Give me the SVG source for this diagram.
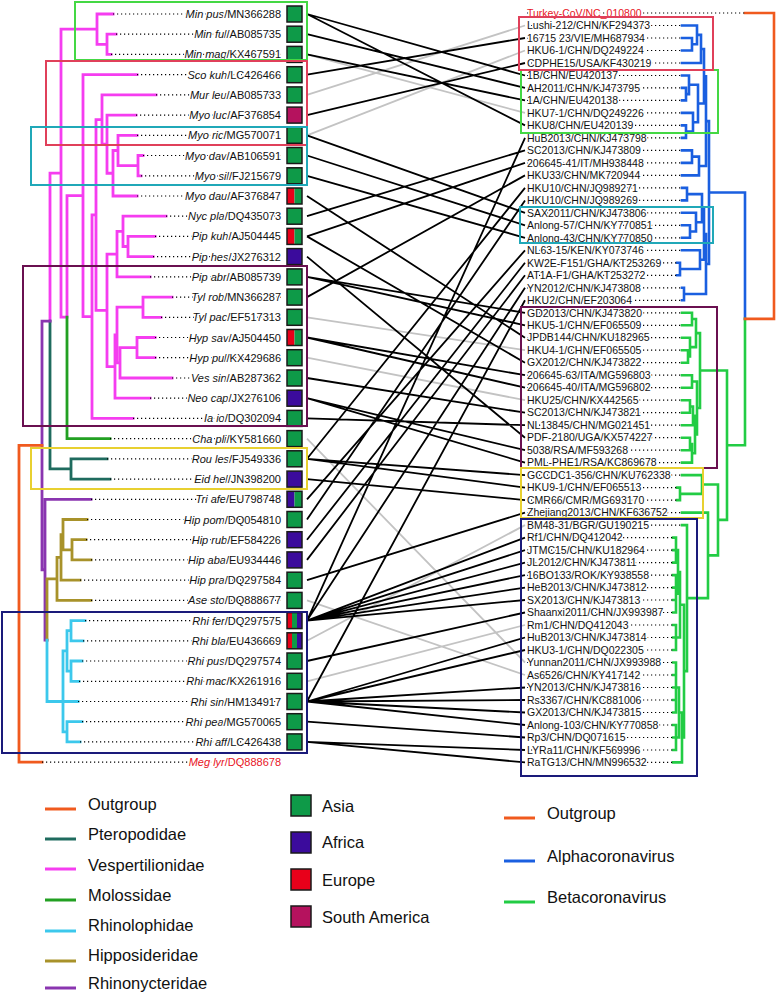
<svg xmlns="http://www.w3.org/2000/svg" width="781" height="993" viewBox="0 0 781 993">
<style>
.lt{font:11px "Liberation Sans",Arial,sans-serif;text-anchor:end;stroke:#fff;stroke-width:3;paint-order:stroke;stroke-linejoin:round;fill:#111}
.rt{font:10.5px "Liberation Sans",Arial,sans-serif;stroke:#fff;stroke-width:3;paint-order:stroke;stroke-linejoin:round;fill:#111}
.i{font-style:italic}
.red{fill:#e8141e}
.d{stroke:#000;stroke-width:1.2;stroke-dasharray:1.2 2.8;fill:none}
.br{fill:none;stroke-width:2.8;stroke-linecap:square}
.rb{fill:none;stroke-width:2.6;stroke-linecap:square}
.c{stroke:#000;stroke-width:1.8;fill:none}
.g{stroke:#c3c3c3;stroke-width:1.8;fill:none}
.bx{fill:none;stroke-width:2}
.sq{stroke:#1a1a1a;stroke-width:1.5;fill:none}
.A{fill:#0e9a48}.F{fill:#3b0b9c}.E{fill:#e8001a}.S{fill:#b5125e}
.lg{font:16.5px "Liberation Sans",Arial,sans-serif;fill:#111}
.ll{stroke-width:3}
</style>

<!-- host tree -->
<g id="host-tree">
<path class="br" stroke="#f53df0" d="M107,34.2V54.4M107,34.2H116M107,54.4H111M97,14V44.3M97,14H113M97,44.3H107M61,29.15V317.15M61,29.15H97M61,317.15H67M67,195.7V317.15M67,195.7H83M83,74.7V316.7M83,74.7H137M83,316.7H92M92,214.95V418.4M92,214.95H96M92,418.4H133M96,119.55V310.35M96,119.55H102M96,310.35H107M102,94.9V144.2M102,94.9H156M102,144.2H107M107,115.1V173.25M107,115.1H136M107,173.25H113M113,150.5V196M113,150.5H118M113,196H137M118,135.3V165.65M118,135.3H137M118,165.65H138M138,155.5V175.8M138,155.5H143M138,175.8H141M107,254.1V366.6M107,254.1H117M107,366.6H115M117,231.35V276.9M117,231.35H123M117,276.9H150M123,216.2V246.5M123,216.2H166M123,246.5H128M128,236.4V256.6M128,236.4H155M128,256.6H153M115,335V398.2M115,335H117M115,398.2H150M117,307.2V362.8M117,307.2H143M117,362.8H120M143,297.1V317.3M143,297.1H172M143,317.3H161M120,347.6V378M120,347.6H137M120,378H172M137,337.5V357.7M137,337.5H155M137,357.7H155M50,173.15V321.05M50,173.15H61"/>
<path class="br" stroke="#22a022" d="M67,317.15V438.6M67,438.6H110"/>
<path class="br" stroke="#1f6b5e" d="M50,321.05V468.95M50,468.95H71M71,458.8V479.1M71,458.8H107M71,479.1H110"/>
<path class="br" stroke="#8a35b0" d="M42,321.05H50M42,321.05V569.75M42,569.75H45M45,499.3V640.2M45,499.3H91M45,640.2H47"/>
<path class="br" stroke="#a8922a" d="M47,578.9V640.2M47,578.9H57M57,557.4V600.4M57,557.4H61M57,600.4H91M61,534.65V580.2M61,534.65H63M61,580.2H80M63,519.5V549.8M63,519.5H87M63,549.8H72M72,539.7V559.9M72,539.7H86M72,559.9H91"/>
<path class="br" stroke="#3cc8ec" d="M47,640.2V701.5M47,701.5H78M63,650.9V731.8M63,650.9H67M63,731.8H67M67,630.7V671.15M67,630.7H71M67,671.15H71M71,620.6V640.8M71,620.6H85M71,640.8H83M71,661V681.3M71,661H82M71,681.3H79M67,721.7V741.9M67,721.7H82M67,741.9H80"/>
<path class="br" stroke="#f05a1e" d="M19,445.4H42M19,445.4V762.1M19,762.1H42"/>
</g>

<!-- virus tree -->
<g id="virus-tree">
<path class="rb" stroke="#1a5fe0" d="M692,38V50.5M682,38H692M682,50.5H692M697,25.5V44.25M682,25.5H697M692,44.25H697M701,34.9V63M697,34.9H701M682,63H701M686,87.9V100.4M682,87.9H686M682,100.4H686M689,75.5V94.15M682,75.5H689M686,94.15H689M686,125.4V137.9M682,125.4H686M682,137.9H686M693,112.9V131.65M682,112.9H693M686,131.65H693M698,84.8V122.3M689,84.8H698M693,122.3H698M704,48.95V103.55M701,48.95H704M698,103.55H704M692,150.4V162.9M682,150.4H692M682,162.9H692M699,156.65V175.4M692,156.65H699M682,175.4H699M687,187.9V200.4M682,187.9H687M682,200.4H687M690,225.3V237.8M682,225.3H690M682,237.8H690M696,212.8V231.55M682,212.8H696M690,231.55H696M702,194.15V222.2M687,194.15H702M696,222.2H702M680,262.8V275.3M677,262.8H680M677,275.3H680M700,250.3V269.05M682,250.3H700M680,269.05H700M684,287.8V300.3M682,287.8H684M682,300.3H684M706,76.25V166M704,76.25H706M699,166H706M704,208.2V259.7M702,208.2H704M700,259.7H704M706,233.95V294.05M704,233.95H706M684,294.05H706M709,121.1V264M706,121.1H709M706,264H709M745,192.55H709M745,192.55V318.9"/>
<path class="rb" stroke="#22cc44" d="M745,318.9V445.2M727,445.2H745M692,312.8V325.3M682,312.8H692M682,325.3H692M688,350.2V362.7M682,350.2H688M682,362.7H688M690,337.7V356.45M682,337.7H690M688,356.45H690M696,319.05V347.1M692,319.05H696M690,347.1H696M692,375.2V387.7M682,375.2H692M682,387.7H692M690,400.2V412.7M682,400.2H690M682,412.7H690M693,406.45V425.2M690,406.45H693M682,425.2H693M690,437.7V450.2M682,437.7H690M682,450.2H690M692,443.95V462.6M690,443.95H692M682,462.6H692M695,415.8V453.3M693,415.8H695M692,453.3H695M697,381.45V434.55M692,381.45H697M695,434.55H697M700,333.1V408M696,333.1H700M697,408H700M680,487.6V500.1M677,487.6H680M677,500.1H680M702,475.1V493.85M682,475.1H702M680,493.85H702M676,537.6V562.6M673,537.6H676M673,550.1H676M673,562.6H676M676,575.1V612.5M673,575.1H676M673,587.6H676M673,600H676M673,612.5H676M678,550.1V593.8M676,550.1H678M676,593.8H678M676,625V650M673,625H676M673,637.5H676M673,650H676M680,571.95V637.5M678,571.95H680M676,637.5H680M676,662.5V712.5M673,662.5H676M673,675H676M673,687.5H676M673,700H676M673,712.5H676M676,725V750M673,725H676M673,737.5H676M673,750H676M679,687.5V737.5M676,687.5H679M676,737.5H679M682,712.5V762.4M679,712.5H682M673,762.4H682M684,604.7V737.45M680,604.7H684M682,737.45H684M687,525.1V671.1M682,525.1H687M684,671.1H687M708,512.6V598.1M682,512.6H708M687,598.1H708M718,484.5V555.35M702,484.5H718M708,555.35H718M727,370.55V519.9M700,370.55H727M718,519.9H727"/>
<path class="rb" stroke="#f05a1e" d="M745,13H774M774,13V318.9M745,318.9H774"/>
</g>

<!-- connectors -->
<g id="connectors">
<path class="g" d="M307,54.4L525,112.9M307,94.9L525,25.5M307,135.3L525,50.5M307,317.3L525,350.2M307,357.7L525,400.2M307,438.6L525,662.5M307,600.4L525,675M307,640.8L525,525.1M307,681.3L525,625"/>
<path class="c" d="M307,14L525,75.5M307,14L525,125.4M307,34.2L525,87.9M307,54.4L525,100.4M307,74.7L525,38M307,115.1L525,63M307,135.3L525,212.8M307,155.5L525,225.3M307,175.8L525,237.8M307,196L525,337.7M307,216.2L525,150.4M307,236.4L525,162.9M307,236.4L525,362.7M307,256.6L525,437.7M307,276.9L525,312.8M307,276.9L525,325.3M307,297.1L525,175.4M307,337.5L525,375.2M307,337.5L525,387.7M307,378L525,412.7M307,398.2L525,450.2M307,398.2L525,462.6M307,418.4L525,425.2M307,458.8L525,187.9M307,458.8L525,475.1M307,458.8L525,487.6M307,479.1L525,500.1M307,499.3L525,250.3M307,519.5L525,200.4M307,539.7L525,262.8M307,559.9L525,275.3M307,580.2L525,512.6M307,620.6L525,137.9M307,620.6L525,287.8M307,620.6L525,537.6M307,620.6L525,550.1M307,620.6L525,562.6M307,620.6L525,575.1M307,620.6L525,587.6M307,620.6L525,600M307,661L525,612.5M307,701.5L525,300.3M307,701.5L525,637.5M307,701.5L525,650M307,701.5L525,687.5M307,701.5L525,700M307,701.5L525,712.5M307,701.5L525,725M307,721.7L525,737.5M307,741.9L525,750M307,741.9L525,762.4"/>
</g>

<!-- host leaves -->
<g id="h0"><path class="d" d="M113,14H281"/><text class="lt" x="281" y="18"><tspan class="i">Min pus</tspan>/MN366288</text><rect class="A" x="287" y="6" width="15" height="16"/><rect class="sq" x="287" y="6" width="15" height="16"/></g>
<g id="h1"><path class="d" d="M116,34.2H281"/><text class="lt" x="281" y="38.2"><tspan class="i">Min ful</tspan>/AB085735</text><rect class="A" x="287" y="26.2" width="15" height="16"/><rect class="sq" x="287" y="26.2" width="15" height="16"/></g>
<g id="h2"><path class="d" d="M111,54.4H281"/><text class="lt" x="281" y="58.4"><tspan class="i">Min mag</tspan>/KX467591</text><rect class="A" x="287" y="46.4" width="15" height="16"/><rect class="sq" x="287" y="46.4" width="15" height="16"/></g>
<g id="h3"><path class="d" d="M137,74.7H281"/><text class="lt" x="281" y="78.7"><tspan class="i">Sco kuh</tspan>/LC426466</text><rect class="A" x="287" y="66.7" width="15" height="16"/><rect class="sq" x="287" y="66.7" width="15" height="16"/></g>
<g id="h4"><path class="d" d="M156,94.9H281"/><text class="lt" x="281" y="98.9"><tspan class="i">Mur leu</tspan>/AB085733</text><rect class="A" x="287" y="86.9" width="15" height="16"/><rect class="sq" x="287" y="86.9" width="15" height="16"/></g>
<g id="h5"><path class="d" d="M136,115.1H281"/><text class="lt" x="281" y="119.1"><tspan class="i">Myo luc</tspan>/AF376854</text><rect class="S" x="287" y="107.1" width="15" height="16"/><rect class="sq" x="287" y="107.1" width="15" height="16"/></g>
<g id="h6"><path class="d" d="M137,135.3H281"/><text class="lt" x="281" y="139.3"><tspan class="i">Myo ric</tspan>/MG570071</text><rect class="A" x="287" y="127.3" width="15" height="16"/><rect class="sq" x="287" y="127.3" width="15" height="16"/></g>
<g id="h7"><path class="d" d="M143,155.5H281"/><text class="lt" x="281" y="159.5"><tspan class="i">Myo dav</tspan>/AB106591</text><rect class="A" x="287" y="147.5" width="15" height="16"/><rect class="sq" x="287" y="147.5" width="15" height="16"/></g>
<g id="h8"><path class="d" d="M141,175.8H281"/><text class="lt" x="281" y="179.8"><tspan class="i">Myo sil</tspan>/FJ215679</text><rect class="A" x="287" y="167.8" width="15" height="16"/><rect class="sq" x="287" y="167.8" width="15" height="16"/></g>
<g id="h9"><path class="d" d="M137,196H281"/><text class="lt" x="281" y="200"><tspan class="i">Myo dau</tspan>/AF376847</text><rect class="E" x="287" y="188" width="7.5" height="16"/><rect class="A" x="294.5" y="188" width="7.5" height="16"/><rect class="sq" x="287" y="188" width="15" height="16"/></g>
<g id="h10"><path class="d" d="M166,216.2H281"/><text class="lt" x="281" y="220.2"><tspan class="i">Nyc pla</tspan>/DQ435073</text><rect class="A" x="287" y="208.2" width="15" height="16"/><rect class="sq" x="287" y="208.2" width="15" height="16"/></g>
<g id="h11"><path class="d" d="M155,236.4H281"/><text class="lt" x="281" y="240.4"><tspan class="i">Pip kuh</tspan>/AJ504445</text><rect class="E" x="287" y="228.4" width="7.5" height="16"/><rect class="A" x="294.5" y="228.4" width="7.5" height="16"/><rect class="sq" x="287" y="228.4" width="15" height="16"/></g>
<g id="h12"><path class="d" d="M153,256.6H281"/><text class="lt" x="281" y="260.6"><tspan class="i">Pip hes</tspan>/JX276312</text><rect class="F" x="287" y="248.6" width="15" height="16"/><rect class="sq" x="287" y="248.6" width="15" height="16"/></g>
<g id="h13"><path class="d" d="M150,276.9H281"/><text class="lt" x="281" y="280.9"><tspan class="i">Pip abr</tspan>/AB085739</text><rect class="A" x="287" y="268.9" width="15" height="16"/><rect class="sq" x="287" y="268.9" width="15" height="16"/></g>
<g id="h14"><path class="d" d="M172,297.1H281"/><text class="lt" x="281" y="301.1"><tspan class="i">Tyl rob</tspan>/MN366287</text><rect class="A" x="287" y="289.1" width="15" height="16"/><rect class="sq" x="287" y="289.1" width="15" height="16"/></g>
<g id="h15"><path class="d" d="M161,317.3H281"/><text class="lt" x="281" y="321.3"><tspan class="i">Tyl pac</tspan>/EF517313</text><rect class="A" x="287" y="309.3" width="15" height="16"/><rect class="sq" x="287" y="309.3" width="15" height="16"/></g>
<g id="h16"><path class="d" d="M155,337.5H281"/><text class="lt" x="281" y="341.5"><tspan class="i">Hyp sav</tspan>/AJ504450</text><rect class="E" x="287" y="329.5" width="7.5" height="16"/><rect class="A" x="294.5" y="329.5" width="7.5" height="16"/><rect class="sq" x="287" y="329.5" width="15" height="16"/></g>
<g id="h17"><path class="d" d="M155,357.7H281"/><text class="lt" x="281" y="361.7"><tspan class="i">Hyp pul</tspan>/KX429686</text><rect class="A" x="287" y="349.7" width="15" height="16"/><rect class="sq" x="287" y="349.7" width="15" height="16"/></g>
<g id="h18"><path class="d" d="M172,378H281"/><text class="lt" x="281" y="382"><tspan class="i">Ves sin</tspan>/AB287362</text><rect class="A" x="287" y="370" width="15" height="16"/><rect class="sq" x="287" y="370" width="15" height="16"/></g>
<g id="h19"><path class="d" d="M150,398.2H281"/><text class="lt" x="281" y="402.2"><tspan class="i">Neo cap</tspan>/JX276106</text><rect class="F" x="287" y="390.2" width="15" height="16"/><rect class="sq" x="287" y="390.2" width="15" height="16"/></g>
<g id="h20"><path class="d" d="M133,418.4H281"/><text class="lt" x="281" y="422.4"><tspan class="i">Ia io</tspan>/DQ302094</text><rect class="A" x="287" y="410.4" width="15" height="16"/><rect class="sq" x="287" y="410.4" width="15" height="16"/></g>
<g id="h21"><path class="d" d="M110,438.6H281"/><text class="lt" x="281" y="442.6"><tspan class="i">Cha pli</tspan>/KY581660</text><rect class="A" x="287" y="430.6" width="15" height="16"/><rect class="sq" x="287" y="430.6" width="15" height="16"/></g>
<g id="h22"><path class="d" d="M107,458.8H281"/><text class="lt" x="281" y="462.8"><tspan class="i">Rou les</tspan>/FJ549336</text><rect class="A" x="287" y="450.8" width="15" height="16"/><rect class="sq" x="287" y="450.8" width="15" height="16"/></g>
<g id="h23"><path class="d" d="M110,479.1H281"/><text class="lt" x="281" y="483.1"><tspan class="i">Eid hel</tspan>/JN398200</text><rect class="F" x="287" y="471.1" width="15" height="16"/><rect class="sq" x="287" y="471.1" width="15" height="16"/></g>
<g id="h24"><path class="d" d="M91,499.3H281"/><text class="lt" x="281" y="503.3"><tspan class="i">Tri afe</tspan>/EU798748</text><rect class="F" x="287" y="491.3" width="7.5" height="16"/><rect class="A" x="294.5" y="491.3" width="7.5" height="16"/><rect class="sq" x="287" y="491.3" width="15" height="16"/></g>
<g id="h25"><path class="d" d="M87,519.5H281"/><text class="lt" x="281" y="523.5"><tspan class="i">Hip pom</tspan>/DQ054810</text><rect class="A" x="287" y="511.5" width="15" height="16"/><rect class="sq" x="287" y="511.5" width="15" height="16"/></g>
<g id="h26"><path class="d" d="M86,539.7H281"/><text class="lt" x="281" y="543.7"><tspan class="i">Hip rub</tspan>/EF584226</text><rect class="F" x="287" y="531.7" width="15" height="16"/><rect class="sq" x="287" y="531.7" width="15" height="16"/></g>
<g id="h27"><path class="d" d="M91,559.9H281"/><text class="lt" x="281" y="563.9"><tspan class="i">Hip aba</tspan>/EU934446</text><rect class="F" x="287" y="551.9" width="15" height="16"/><rect class="sq" x="287" y="551.9" width="15" height="16"/></g>
<g id="h28"><path class="d" d="M80,580.2H281"/><text class="lt" x="281" y="584.2"><tspan class="i">Hip pra</tspan>/DQ297584</text><rect class="A" x="287" y="572.2" width="15" height="16"/><rect class="sq" x="287" y="572.2" width="15" height="16"/></g>
<g id="h29"><path class="d" d="M91,600.4H281"/><text class="lt" x="281" y="604.4"><tspan class="i">Ase sto</tspan>/DQ888677</text><rect class="A" x="287" y="592.4" width="15" height="16"/><rect class="sq" x="287" y="592.4" width="15" height="16"/></g>
<g id="h30"><path class="d" d="M85,620.6H281"/><text class="lt" x="281" y="624.6"><tspan class="i">Rhi fer</tspan>/DQ297575</text><rect class="E" x="287" y="612.6" width="5" height="16"/><rect class="A" x="292" y="612.6" width="5" height="16"/><rect class="F" x="297" y="612.6" width="5" height="16"/><rect class="sq" x="287" y="612.6" width="15" height="16"/></g>
<g id="h31"><path class="d" d="M83,640.8H281"/><text class="lt" x="281" y="644.8"><tspan class="i">Rhi bla</tspan>/EU436669</text><rect class="E" x="287" y="632.8" width="5" height="16"/><rect class="A" x="292" y="632.8" width="5" height="16"/><rect class="F" x="297" y="632.8" width="5" height="16"/><rect class="sq" x="287" y="632.8" width="15" height="16"/></g>
<g id="h32"><path class="d" d="M82,661H281"/><text class="lt" x="281" y="665"><tspan class="i">Rhi pus</tspan>/DQ297574</text><rect class="A" x="287" y="653" width="15" height="16"/><rect class="sq" x="287" y="653" width="15" height="16"/></g>
<g id="h33"><path class="d" d="M79,681.3H281"/><text class="lt" x="281" y="685.3"><tspan class="i">Rhi mac</tspan>/KX261916</text><rect class="A" x="287" y="673.3" width="15" height="16"/><rect class="sq" x="287" y="673.3" width="15" height="16"/></g>
<g id="h34"><path class="d" d="M78,701.5H281"/><text class="lt" x="281" y="705.5"><tspan class="i">Rhi sin</tspan>/HM134917</text><rect class="A" x="287" y="693.5" width="15" height="16"/><rect class="sq" x="287" y="693.5" width="15" height="16"/></g>
<g id="h35"><path class="d" d="M82,721.7H281"/><text class="lt" x="281" y="725.7"><tspan class="i">Rhi pea</tspan>/MG570065</text><rect class="A" x="287" y="713.7" width="15" height="16"/><rect class="sq" x="287" y="713.7" width="15" height="16"/></g>
<g id="h36"><path class="d" d="M80,741.9H281"/><text class="lt" x="281" y="745.9"><tspan class="i">Rhi aff</tspan>/LC426438</text><rect class="A" x="287" y="733.9" width="15" height="16"/><rect class="sq" x="287" y="733.9" width="15" height="16"/></g>
<g id="h37"><path class="d" d="M42,762.1H281"/><text class="lt red" x="281" y="766.1"><tspan class="i">Meg lyr</tspan>/DQ888678</text></g>

<!-- virus leaves -->
<g id="v0"><path class="d" d="M527,13H745"/><text class="rt red" x="527" y="16.7">Turkey-CoV/NC_010800</text></g>
<g id="v1"><path class="d" d="M527,25.5H682"/><text class="rt" x="527" y="29.2">Lushi-212/CHN/KF294373</text></g>
<g id="v2"><path class="d" d="M527,38H682"/><text class="rt" x="527" y="41.7">16715 23/VIE/MH687934</text></g>
<g id="v3"><path class="d" d="M527,50.5H682"/><text class="rt" x="527" y="54.2">HKU6-1/CHN/DQ249224</text></g>
<g id="v4"><path class="d" d="M527,63H682"/><text class="rt" x="527" y="66.7">CDPHE15/USA/KF430219</text></g>
<g id="v5"><path class="d" d="M527,75.5H682"/><text class="rt" x="527" y="79.2">1B/CHN/EU420137</text></g>
<g id="v6"><path class="d" d="M527,87.9H682"/><text class="rt" x="527" y="91.6">AH2011/CHN/KJ473795</text></g>
<g id="v7"><path class="d" d="M527,100.4H682"/><text class="rt" x="527" y="104.1">1A/CHN/EU420138</text></g>
<g id="v8"><path class="d" d="M527,112.9H682"/><text class="rt" x="527" y="116.6">HKU7-1/CHN/DQ249226</text></g>
<g id="v9"><path class="d" d="M527,125.4H682"/><text class="rt" x="527" y="129.1">HKU8/CHN/EU420139</text></g>
<g id="v10"><path class="d" d="M527,137.9H682"/><text class="rt" x="527" y="141.6">HuB2013/CHN/KJ473798</text></g>
<g id="v11"><path class="d" d="M527,150.4H682"/><text class="rt" x="527" y="154.1">SC2013/CHN/KJ473809</text></g>
<g id="v12"><path class="d" d="M527,162.9H682"/><text class="rt" x="527" y="166.6">206645-41/IT/MH938448</text></g>
<g id="v13"><path class="d" d="M527,175.4H682"/><text class="rt" x="527" y="179.1">HKU33/CHN/MK720944</text></g>
<g id="v14"><path class="d" d="M527,187.9H682"/><text class="rt" x="527" y="191.6">HKU10/CHN/JQ989271</text></g>
<g id="v15"><path class="d" d="M527,200.4H682"/><text class="rt" x="527" y="204.1">HKU10/CHN/JQ989269</text></g>
<g id="v16"><path class="d" d="M527,212.8H682"/><text class="rt" x="527" y="216.5">SAX2011/CHN/KJ473806</text></g>
<g id="v17"><path class="d" d="M527,225.3H682"/><text class="rt" x="527" y="229">Anlong-57/CHN/KY770851</text></g>
<g id="v18"><path class="d" d="M527,237.8H682"/><text class="rt" x="527" y="241.5">Anlong-43/CHN/KY770850</text></g>
<g id="v19"><path class="d" d="M527,250.3H682"/><text class="rt" x="527" y="254">NL63-15/KEN/KY073746</text></g>
<g id="v20"><path class="d" d="M527,262.8H677"/><text class="rt" x="527" y="266.5">KW2E-F151/GHA/KT253269</text></g>
<g id="v21"><path class="d" d="M527,275.3H677"/><text class="rt" x="527" y="279">AT1A-F1/GHA/KT253272</text></g>
<g id="v22"><path class="d" d="M527,287.8H682"/><text class="rt" x="527" y="291.5">YN2012/CHN/KJ473808</text></g>
<g id="v23"><path class="d" d="M527,300.3H682"/><text class="rt" x="527" y="304">HKU2/CHN/EF203064</text></g>
<g id="v24"><path class="d" d="M527,312.8H682"/><text class="rt" x="527" y="316.5">GD2013/CHN/KJ473820</text></g>
<g id="v25"><path class="d" d="M527,325.3H682"/><text class="rt" x="527" y="329">HKU5-1/CHN/EF065509</text></g>
<g id="v26"><path class="d" d="M527,337.7H682"/><text class="rt" x="527" y="341.4">JPDB144/CHN/KU182965</text></g>
<g id="v27"><path class="d" d="M527,350.2H682"/><text class="rt" x="527" y="353.9">HKU4-1/CHN/EF065505</text></g>
<g id="v28"><path class="d" d="M527,362.7H682"/><text class="rt" x="527" y="366.4">GX2012/CHN/KJ473822</text></g>
<g id="v29"><path class="d" d="M527,375.2H682"/><text class="rt" x="527" y="378.9">206645-63/ITA/MG596803</text></g>
<g id="v30"><path class="d" d="M527,387.7H682"/><text class="rt" x="527" y="391.4">206645-40/ITA/MG596802</text></g>
<g id="v31"><path class="d" d="M527,400.2H682"/><text class="rt" x="527" y="403.9">HKU25/CHN/KX442565</text></g>
<g id="v32"><path class="d" d="M527,412.7H682"/><text class="rt" x="527" y="416.4">SC2013/CHN/KJ473821</text></g>
<g id="v33"><path class="d" d="M527,425.2H682"/><text class="rt" x="527" y="428.9">NL13845/CHN/MG021451</text></g>
<g id="v34"><path class="d" d="M527,437.7H682"/><text class="rt" x="527" y="441.4">PDF-2180/UGA/KX574227</text></g>
<g id="v35"><path class="d" d="M527,450.2H682"/><text class="rt" x="527" y="453.9">5038/RSA/MF593268</text></g>
<g id="v36"><path class="d" d="M527,462.6H682"/><text class="rt" x="527" y="466.3">PML-PHE1/RSA/KC869678</text></g>
<g id="v37"><path class="d" d="M527,475.1H682"/><text class="rt" x="527" y="478.8">GCCDC1-356/CHN/KU762338</text></g>
<g id="v38"><path class="d" d="M527,487.6H677"/><text class="rt" x="527" y="491.3">HKU9-1/CHN/EF065513</text></g>
<g id="v39"><path class="d" d="M527,500.1H677"/><text class="rt" x="527" y="503.8">CMR66/CMR/MG693170</text></g>
<g id="v40"><path class="d" d="M527,512.6H682"/><text class="rt" x="527" y="516.3">Zhejiang2013/CHN/KF636752</text></g>
<g id="v41"><path class="d" d="M527,525.1H682"/><text class="rt" x="527" y="528.8">BM48-31/BGR/GU190215</text></g>
<g id="v42"><path class="d" d="M527,537.6H673"/><text class="rt" x="527" y="541.3">Rf1/CHN/DQ412042</text></g>
<g id="v43"><path class="d" d="M527,550.1H673"/><text class="rt" x="527" y="553.8">JTMC15/CHN/KU182964</text></g>
<g id="v44"><path class="d" d="M527,562.6H673"/><text class="rt" x="527" y="566.3">JL2012/CHN/KJ473811</text></g>
<g id="v45"><path class="d" d="M527,575.1H673"/><text class="rt" x="527" y="578.8">16BO133/ROK/KY938558</text></g>
<g id="v46"><path class="d" d="M527,587.6H673"/><text class="rt" x="527" y="591.3">HeB2013/CHN/KJ473812</text></g>
<g id="v47"><path class="d" d="M527,600H673"/><text class="rt" x="527" y="603.7">SX2013/CHN/KJ473813</text></g>
<g id="v48"><path class="d" d="M527,612.5H673"/><text class="rt" x="527" y="616.2">Shaanxi2011/CHN/JX993987</text></g>
<g id="v49"><path class="d" d="M527,625H673"/><text class="rt" x="527" y="628.7">Rm1/CHN/DQ412043</text></g>
<g id="v50"><path class="d" d="M527,637.5H673"/><text class="rt" x="527" y="641.2">HuB2013/CHN/KJ473814</text></g>
<g id="v51"><path class="d" d="M527,650H673"/><text class="rt" x="527" y="653.7">HKU3-1/CHN/DQ022305</text></g>
<g id="v52"><path class="d" d="M527,662.5H673"/><text class="rt" x="527" y="666.2">Yunnan2011/CHN/JX993988</text></g>
<g id="v53"><path class="d" d="M527,675H673"/><text class="rt" x="527" y="678.7">As6526/CHN/KY417142</text></g>
<g id="v54"><path class="d" d="M527,687.5H673"/><text class="rt" x="527" y="691.2">YN2013/CHN/KJ473816</text></g>
<g id="v55"><path class="d" d="M527,700H673"/><text class="rt" x="527" y="703.7">Rs3367/CHN/KC881006</text></g>
<g id="v56"><path class="d" d="M527,712.5H673"/><text class="rt" x="527" y="716.2">GX2013/CHN/KJ473815</text></g>
<g id="v57"><path class="d" d="M527,725H673"/><text class="rt" x="527" y="728.7">Anlong-103/CHN/KY770858</text></g>
<g id="v58"><path class="d" d="M527,737.5H673"/><text class="rt" x="527" y="741.2">Rp3/CHN/DQ071615</text></g>
<g id="v59"><path class="d" d="M527,750H673"/><text class="rt" x="527" y="753.7">LYRa11/CHN/KF569996</text></g>
<g id="v60"><path class="d" d="M527,762.4H673"/><text class="rt" x="527" y="766.1">RaTG13/CHN/MN996532</text></g>

<!-- boxes -->
<g id="boxes">
<rect class="bx" stroke="#44d844" x="75" y="2" width="232" height="58"/>
<rect class="bx" stroke="#44d844" x="521" y="70" width="197" height="63"/>
<rect class="bx" stroke="#e0405a" x="46" y="61" width="261" height="84"/>
<rect class="bx" stroke="#e0405a" x="519" y="17" width="194" height="53"/>
<rect class="bx" stroke="#20a8b8" x="31" y="127" width="276" height="58"/>
<rect class="bx" stroke="#20a8b8" x="520" y="207" width="193" height="36"/>
<rect class="bx" stroke="#6a1050" x="23" y="266" width="284" height="160"/>
<rect class="bx" stroke="#6a1050" x="521" y="307" width="196" height="161"/>
<rect class="bx" stroke="#e8d030" x="31" y="448" width="276" height="41"/>
<rect class="bx" stroke="#e8d030" x="521" y="468" width="182" height="50"/>
<rect class="bx" stroke="#1a1a7a" x="2" y="612" width="305" height="141"/>
<rect class="bx" stroke="#1a1a7a" x="521" y="519" width="176" height="257"/>
</g>

<!-- legend -->
<g id="legend-hosts">
<path class="ll" stroke="#f05a1e" d="M45,809H76"/><text class="lg" x="88" y="810">Outgroup</text>
<path class="ll" stroke="#1f6b5e" d="M45,839H76"/><text class="lg" x="88" y="840">Pteropodidae</text>
<path class="ll" stroke="#f53df0" d="M45,869H76"/><text class="lg" x="88" y="871">Vespertilionidae</text>
<path class="ll" stroke="#22a022" d="M45,900H76"/><text class="lg" x="88" y="901">Molossidae</text>
<path class="ll" stroke="#3cc8ec" d="M45,931H76"/><text class="lg" x="88" y="931">Rhinolophidae</text>
<path class="ll" stroke="#a8922a" d="M45,961H76"/><text class="lg" x="88" y="961">Hipposideridae</text>
<path class="ll" stroke="#8a35b0" d="M45,988H76"/><text class="lg" x="88" y="989">Rhinonycteridae</text>
</g>
<g id="legend-regions">
<rect class="A" x="291" y="795" width="20" height="21"/><rect class="sq" x="291" y="795" width="20" height="21"/><text class="lg" x="322" y="812">Asia</text>
<rect class="F" x="291" y="832" width="20" height="21"/><rect class="sq" x="291" y="832" width="20" height="21"/><text class="lg" x="322" y="848">Africa</text>
<rect class="E" x="291" y="869" width="20" height="21"/><rect class="sq" x="291" y="869" width="20" height="21"/><text class="lg" x="322" y="886">Europe</text>
<rect class="S" x="291" y="906" width="20" height="21"/><rect class="sq" x="291" y="906" width="20" height="21"/><text class="lg" x="322" y="923">South America</text>
</g>
<g id="legend-viruses">
<path class="ll" stroke="#f05a1e" d="M504,818H535"/><text class="lg" x="547" y="819">Outgroup</text>
<path class="ll" stroke="#1a5fe0" d="M504,861H535"/><text class="lg" x="547" y="862">Alphacoronavirus</text>
<path class="ll" stroke="#22cc44" d="M504,902H535"/><text class="lg" x="547" y="903">Betacoronavirus</text>
</g>
</svg>
